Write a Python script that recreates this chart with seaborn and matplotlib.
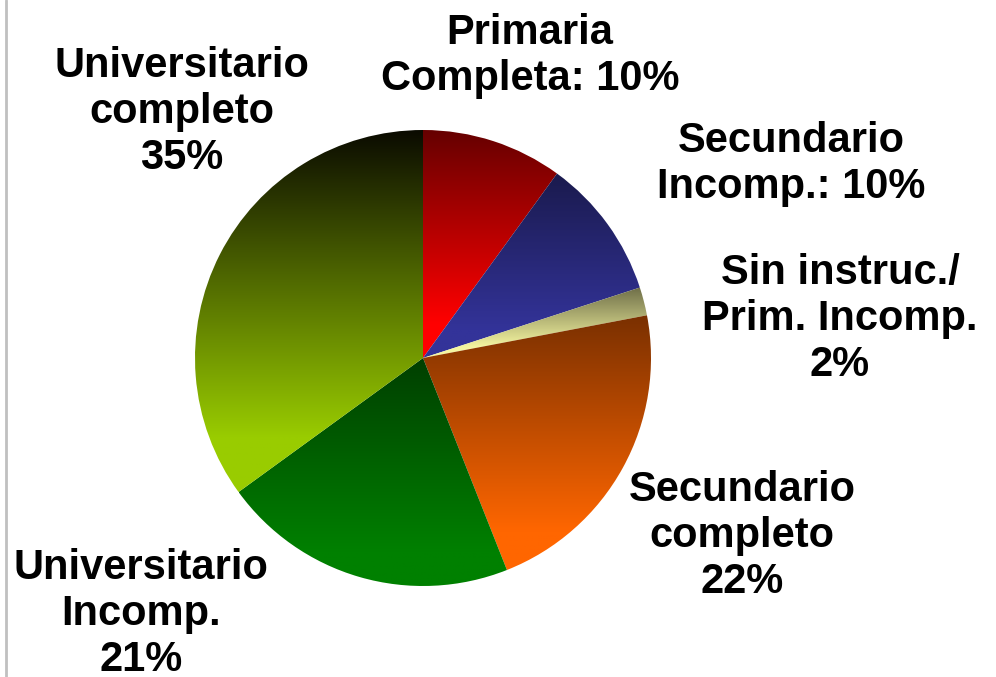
import numpy as np
import matplotlib.pyplot as plt
import seaborn as sns
from matplotlib.colors import LinearSegmentedColormap

# Estilo base y fuente tipo Arial
sns.set_theme(style="white")
plt.rcParams['font.family'] = ['Liberation Sans', 'DejaVu Sans']

# Datos del gráfico (nivel de instrucción)
categorias = ["Primaria Completa", "Secundario Incomp.", "Sin instruc./ Prim. Incomp.",
              "Secundario completo", "Universitario Incomp.", "Universitario completo"]
porcentajes = [10, 10, 2, 22, 21, 35]
etiquetas = ["Primaria\nCompleta: 10%",
             "Secundario\nIncomp.: 10%",
             "Sin instruc./\nPrim. Incomp.\n2%",
             "Secundario\ncompleto\n22%",
             "Universitario\nIncomp.\n21%",
             "Universitario\ncompleto\n35%"]

# Colores del degradado (arriba -> abajo) de cada porción
color_arriba = ["#660000", "#1a1a4d", "#6e6e48", "#7a3000", "#003f00", "#0a0a00"]
color_abajo = ["#ff0000", "#333399", "#f5f5a0", "#ff6600", "#008000", "#99cc00"]

# Posición de las etiquetas en píxeles (x, y desde arriba)
pos_etiquetas = [(530, 56), (791, 164), (840, 319), (742, 536), (141, 614), (182, 112)]

W, H = 996, 677
fig = plt.figure(figsize=(W / 100, H / 100), dpi=100)
ax = fig.add_axes([0, 0, 1, 1])

centro = (423, H - 358)
wedges, _ = ax.pie(porcentajes, startangle=90, counterclock=False,
                   center=centro, radius=228,
                   wedgeprops=dict(linewidth=0))

# Relleno con degradado vertical recortado a cada porción
grad = np.linspace(0, 1, 256).reshape(-1, 1)
for w, c0, c1 in zip(wedges, color_arriba, color_abajo):
    ext = w.get_path().get_extents()
    cmap = LinearSegmentedColormap.from_list("g", [(0, c0), (0.85, c1), (1, c1)])
    im = ax.imshow(grad, cmap=cmap, aspect="auto", origin="upper",
                   extent=(ext.x0, ext.x1, ext.y0, ext.y1), zorder=2)
    im.set_clip_path(w)
    w.set_facecolor("none")

# Etiquetas
for txt, (x, y) in zip(etiquetas, pos_etiquetas):
    ax.text(x, H - y, txt, ha="center", va="center", fontsize=30,
            fontweight="bold", color="black", zorder=5)

# Línea gris del borde izquierdo
ax.plot([6, 6], [0, H], color="#c0c0c0", lw=2, zorder=1)

ax.set_xlim(0, W)
ax.set_ylim(0, H)
ax.set_aspect("equal")
ax.axis("off")

plt.savefig("out.png", dpi=100)
plt.close()
